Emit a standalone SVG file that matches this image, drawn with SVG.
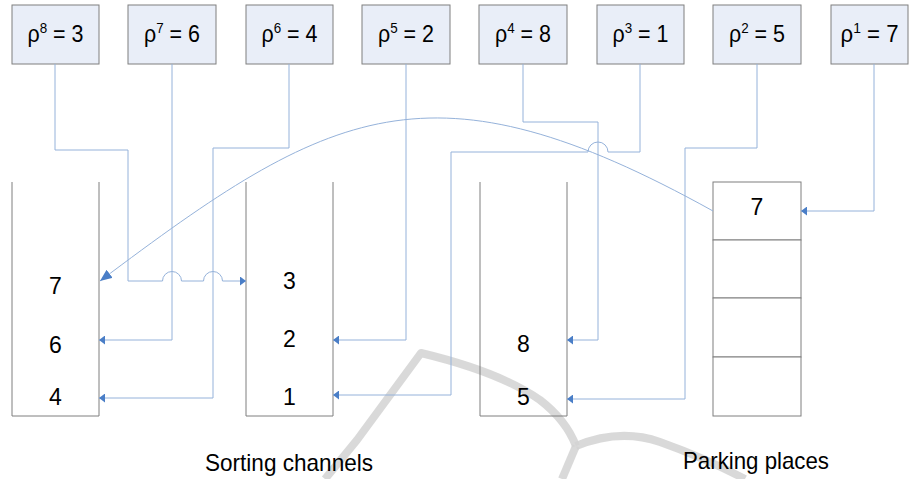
<svg xmlns="http://www.w3.org/2000/svg" width="909" height="479" viewBox="0 0 909 479">
<style>
.box{fill:#e9eef8;stroke:#7f7f7f;stroke-width:1}
.ch{fill:none;stroke:#7f7f7f;stroke-width:1}
.pk{fill:#ffffff;stroke:#7f7f7f;stroke-width:1}
.t{font-family:"Liberation Sans",Arial,sans-serif;fill:#000;text-anchor:middle}
.top{font-size:24px}
.dig{font-size:23px}
.cap{font-size:24px}
.c{fill:none;stroke:#95b2da;stroke-width:1}
.wm{fill:none;stroke:#d2d2d2;stroke-width:8;stroke-linecap:butt;stroke-linejoin:round;opacity:0.85}
</style>
<defs>
<marker id="a" markerUnits="userSpaceOnUse" markerWidth="7" markerHeight="9" refX="6" refY="4.5" orient="auto">
<path d="M0,0 L6,4.5 L0,9 z" fill="#4a7ec7"/>
</marker>
<marker id="ab" markerUnits="userSpaceOnUse" markerWidth="13" markerHeight="11" refX="12" refY="5" orient="auto">
<path d="M0,0 L12,5 L0,10 z" fill="#4a7ec7"/>
</marker>
</defs>

<g id="watermark">
<path class="wm" d="M325,479 L357,440 L421,353 Q500,372 540,400 Q566,420 576,446"/>
<path class="wm" d="M576,446 L562,479"/>
<path class="wm" d="M576,446 Q620,428 660,442 Q705,458 745,479"/>
</g>

<g id="channel1">
<path class="ch" d="M12,182 V416 H99 V182"/>
<text class="t dig" x="55.5" y="294">7</text>
<text class="t dig" x="55.5" y="353">6</text>
<text class="t dig" x="55.5" y="405">4</text>
</g>
<g id="channel2">
<path class="ch" d="M246,182 V416 H333 V182"/>
<text class="t dig" x="289.5" y="289">3</text>
<text class="t dig" x="289.5" y="347">2</text>
<text class="t dig" x="289.5" y="405">1</text>
</g>
<g id="channel3">
<path class="ch" d="M480,182 V416 H567 V182"/>
<text class="t dig" x="523.5" y="352">8</text>
<text class="t dig" x="523.5" y="405">5</text>
</g>
<g id="parking">
<rect class="pk" x="713" y="182" width="88" height="58"/>
<rect class="pk" x="713" y="240" width="88" height="58"/>
<rect class="pk" x="713" y="298" width="88" height="59"/>
<rect class="pk" x="713" y="357" width="88" height="59"/>
<text class="t dig" x="757" y="215">7</text>
</g>

<g id="rho8"><rect class="box" x="12" y="5" width="87" height="59"/><text class="t top" x="55.5" y="42" textLength="56" lengthAdjust="spacingAndGlyphs">ρ<tspan font-size="15" dy="-9">8</tspan><tspan dy="9"> = 3</tspan></text></g>
<g id="rho7"><rect class="box" x="128" y="5" width="88" height="59"/><text class="t top" x="172" y="42" textLength="56" lengthAdjust="spacingAndGlyphs">ρ<tspan font-size="15" dy="-9">7</tspan><tspan dy="9"> = 6</tspan></text></g>
<g id="rho6"><rect class="box" x="246" y="5" width="87" height="59"/><text class="t top" x="289.5" y="42" textLength="56" lengthAdjust="spacingAndGlyphs">ρ<tspan font-size="15" dy="-9">6</tspan><tspan dy="9"> = 4</tspan></text></g>
<g id="rho5"><rect class="box" x="362" y="5" width="88" height="59"/><text class="t top" x="406" y="42" textLength="56" lengthAdjust="spacingAndGlyphs">ρ<tspan font-size="15" dy="-9">5</tspan><tspan dy="9"> = 2</tspan></text></g>
<g id="rho4"><rect class="box" x="479" y="5" width="88" height="59"/><text class="t top" x="523" y="42" textLength="56" lengthAdjust="spacingAndGlyphs">ρ<tspan font-size="15" dy="-9">4</tspan><tspan dy="9"> = 8</tspan></text></g>
<g id="rho3"><rect class="box" x="597" y="5" width="87" height="59"/><text class="t top" x="640.5" y="42" textLength="56" lengthAdjust="spacingAndGlyphs">ρ<tspan font-size="15" dy="-9">3</tspan><tspan dy="9"> = 1</tspan></text></g>
<g id="rho2"><rect class="box" x="713" y="5" width="88" height="59"/><text class="t top" x="757" y="42" textLength="56" lengthAdjust="spacingAndGlyphs">ρ<tspan font-size="15" dy="-9">2</tspan><tspan dy="9"> = 5</tspan></text></g>
<g id="rho1"><rect class="box" x="831" y="5" width="77" height="59"/><text class="t top" x="869.5" y="42" textLength="58" lengthAdjust="spacingAndGlyphs">ρ<tspan font-size="15" dy="-9">1</tspan><tspan dy="9"> = 7</tspan></text></g>

<g id="connectors">
<path class="c" marker-end="url(#a)" d="M55,64 V150 H128 V281 H162.5 A9.5,9.5 0 0 1 181.5,281 H203.5 A9.5,9.5 0 0 1 222.5,281 H246"/>
<path class="c" marker-end="url(#a)" d="M172,64 V340 H99"/>
<path class="c" marker-end="url(#a)" d="M289,64 V148 H213 V398 H99"/>
<path class="c" marker-end="url(#a)" d="M406,64 V340 H333"/>
<path class="c" marker-end="url(#a)" d="M523,64 V122 H598 V340 H567"/>
<path class="c" marker-end="url(#a)" d="M640,64 V152 H608 A10,10 0 0 0 588,152 H451 V395 H333"/>
<path class="c" marker-end="url(#a)" d="M757,64 V148 H685 V399 H567"/>
<path class="c" marker-end="url(#a)" d="M874,64 V211 H801"/>
<path class="c" marker-end="url(#ab)" d="M713,211 C430,54 330,108 100,281"/>
</g>

<g id="captions">
<text class="t cap" x="289" y="471" textLength="168" lengthAdjust="spacingAndGlyphs">Sorting channels</text>
<text class="t cap" x="756" y="469" textLength="146" lengthAdjust="spacingAndGlyphs">Parking places</text>
</g>
</svg>
